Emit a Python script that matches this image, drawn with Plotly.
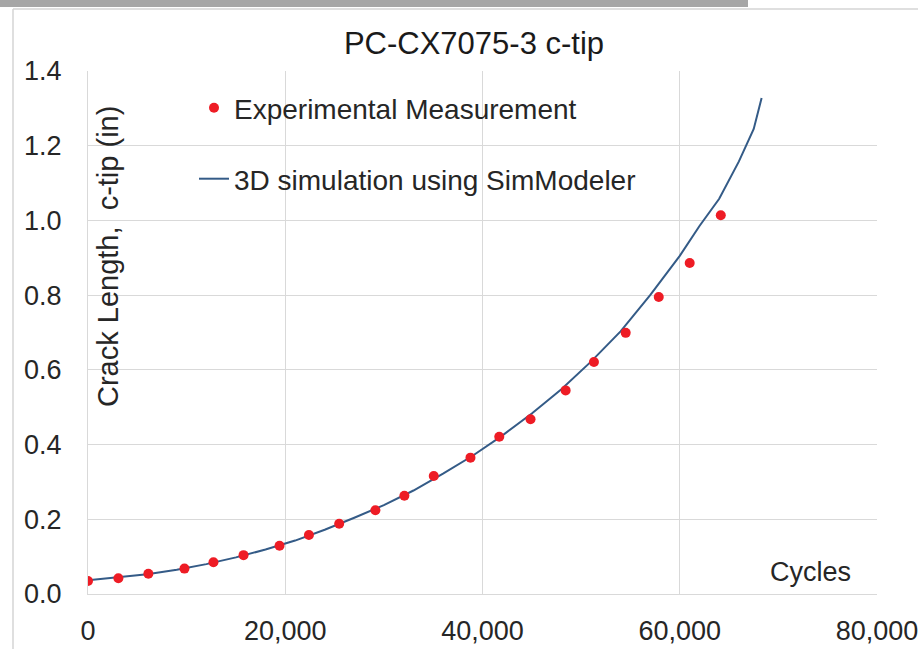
import plotly.graph_objects as go

# ---- data ----
exp_cycles = [0, 3080, 6120, 9780, 12720, 15770, 19420, 22400, 25470, 29140, 32080,
              35060, 38780, 41700, 44870, 48430, 51300, 54520, 57870, 61010, 64160]
exp_crack = [0.035, 0.042, 0.054, 0.068, 0.085, 0.104, 0.129, 0.158, 0.188, 0.224, 0.263,
             0.316, 0.365, 0.421, 0.468, 0.545, 0.621, 0.699, 0.795, 0.886, 1.014]

sim_cycles = [0, 3000, 6000, 9000, 12000, 15000, 18000, 21000, 24000, 27000, 30000,
              33000, 36000, 39000, 42000, 45000, 48000, 51000, 54000, 57000, 60000,
              62000, 64000, 66000, 67500, 68300]
sim_crack = [0.037, 0.044, 0.053, 0.065, 0.080, 0.098, 0.119, 0.143, 0.172, 0.204, 0.238,
             0.277, 0.322, 0.370, 0.424, 0.483, 0.548, 0.622, 0.703, 0.800, 0.905,
             0.985, 1.058, 1.158, 1.245, 1.328]

x_ticks = [0, 20000, 40000, 60000, 80000]
x_ticklabels = ["0", "20,000", "40,000", "60,000", "80,000"]
y_ticks = [0.0, 0.2, 0.4, 0.6, 0.8, 1.0, 1.2, 1.4]
y_ticklabels = ["0.0", "0.2", "0.4", "0.6", "0.8", "1.0", "1.2", "1.4"]

W, H = 918, 649
L, R, T, B = 88, 877, 71, 594  # plot area in pixels


def px(xp):
    return (xp - L) / (R - L)


def py(yp):
    return (B - yp) / (B - T)


FONT = "Liberation Sans, Arial, sans-serif"
TXT = "#262626"
GRID = "#d9d9d9"

fig = go.Figure()
fig.add_trace(go.Scatter(
    x=sim_cycles, y=sim_crack, mode="lines",
    name="3D simulation using SimModeler",
    line=dict(color="#345b87", width=2),
    legend="legend2", showlegend=True,
))
fig.add_trace(go.Scatter(
    x=exp_cycles, y=exp_crack, mode="markers",
    name="Experimental Measurement",
    marker=dict(color="#ee1c25", size=10),
    legend="legend", showlegend=True,
))

fig.update_layout(
    width=W, height=H, showlegend=True,
    margin=dict(l=L, r=W - R, t=T, b=H - B, autoexpand=False),
    paper_bgcolor="white", plot_bgcolor="white",
    font=dict(family=FONT, color=TXT),
    title=dict(text="PC-CX7075-3 c-tip", font=dict(size=31, color="#1a1a1a"),
               x=px(474), xref="paper", xanchor="center",
               y=1 - 43 / H, yref="container", yanchor="middle"),
    xaxis=dict(range=[0, 80000], tickvals=x_ticks, ticktext=x_ticklabels,
               showgrid=True, gridcolor=GRID, gridwidth=1,
               showline=True, linecolor=GRID, linewidth=1, zeroline=False,
               ticks="", tickfont=dict(size=27, color=TXT), ticklabelstandoff=13,
               ticklabeloverflow="allow", automargin=False),
    yaxis=dict(range=[0, 1.4], tickvals=y_ticks, ticktext=y_ticklabels,
               showgrid=True, gridcolor=GRID, gridwidth=1,
               showline=True, linecolor=GRID, linewidth=1, zeroline=False,
               ticks="", tickfont=dict(size=27, color=TXT), ticklabelstandoff=20,
               automargin=False),
    legend=dict(x=px(194), y=py(83), xanchor="left", yanchor="top",
                bgcolor="rgba(0,0,0,0)", font=dict(size=28, color=TXT)),
    legend2=dict(x=px(194), y=py(154), xanchor="left", yanchor="top",
                 bgcolor="rgba(0,0,0,0)", font=dict(size=28, color=TXT)),
    annotations=[
        dict(text="Crack Length,  c-tip (in)", textangle=-90, xref="paper", yref="paper",
             x=px(108), y=py(257), xanchor="center", yanchor="middle",
             showarrow=False, font=dict(size=29, color=TXT)),
        dict(text="Cycles", xref="paper", yref="paper",
             x=px(810), y=py(572), xanchor="center", yanchor="middle",
             showarrow=False, font=dict(size=27, color=TXT)),
    ],
    shapes=[
        dict(type="rect", xref="paper", yref="paper",
             x0=px(0), x1=px(748), y0=py(7), y1=py(0),
             fillcolor="#a6a6a6", line=dict(width=0), layer="above"),
        dict(type="line", xref="paper", yref="paper",
             x0=px(13), x1=px(918), y0=py(9), y1=py(9),
             line=dict(color="#d4d4d4", width=1.5)),
        dict(type="line", xref="paper", yref="paper",
             x0=px(13), x1=px(13), y0=py(9), y1=py(649),
             line=dict(color="#d4d4d4", width=1.5)),
    ],
)

fig.write_html("out.html")
